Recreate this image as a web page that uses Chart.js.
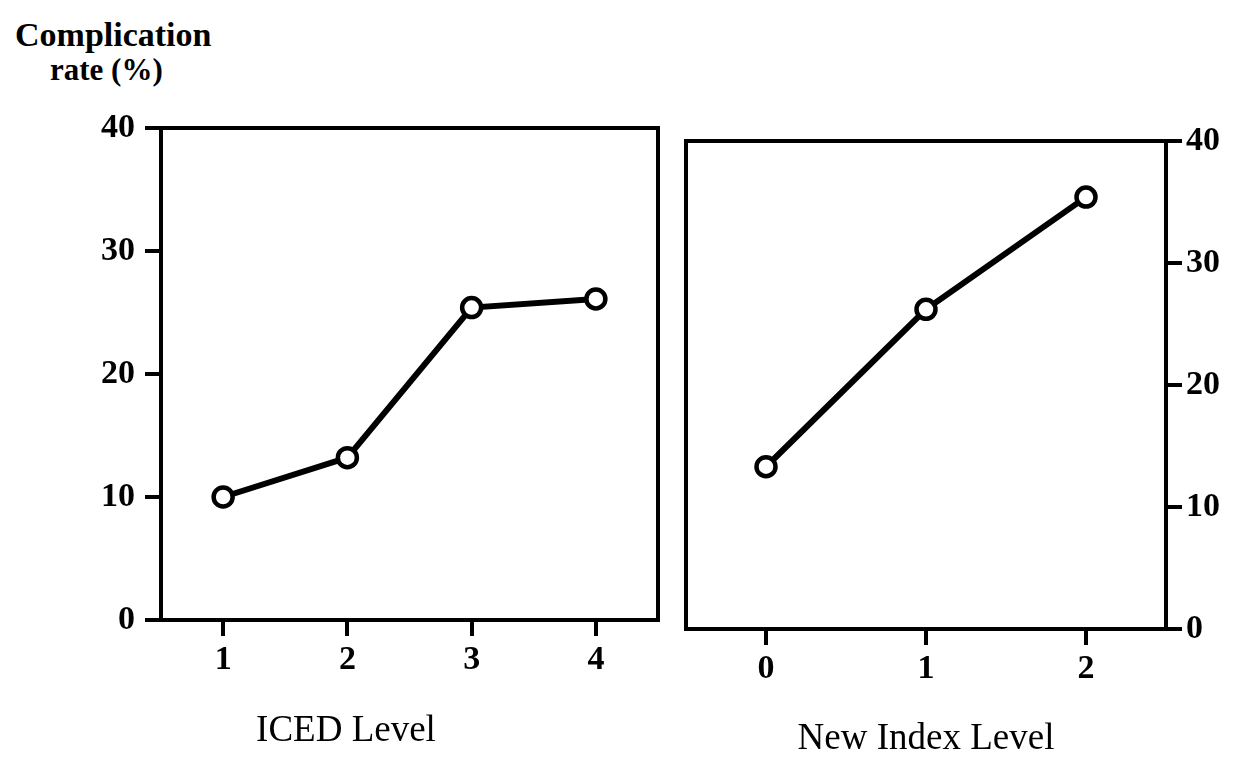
<!DOCTYPE html>
<html>
<head>
<meta charset="utf-8">
<script src="https://cdn.jsdelivr.net/npm/chart.js@4.4.1/dist/chart.umd.min.js"></script>
<style>
  html, body { margin: 0; padding: 0; background: #fff; }
  body { position: relative; width: 1236px; height: 781px; overflow: hidden; }
  #leftChart { position: absolute; left: 0; top: 0; }
  #rightChart { position: absolute; left: 672px; top: 0; }
  .ylabel { position: absolute; font-family: 'Liberation Serif', serif; font-weight: bold; font-size: 34px; line-height: 1; color: #000; white-space: nowrap; }
</style>
</head>
<body>
<div class="ylabel" style="left:15px; top:18px;">Complication</div>
<div class="ylabel" style="left:50px; top:54px; font-size:31px;">rate (%)</div>
<canvas id="leftChart" width="672" height="781"></canvas>
<canvas id="rightChart" width="564" height="781"></canvas>
<script>
// values
const icedLevels = [1, 2, 3, 4];
const icedRates = [10.0, 13.2, 25.4, 26.1];
const newIndexLevels = [0, 1, 2];
const newIndexRates = [13.3, 26.2, 35.4];

const icedTicks = [1, 2, 3, 4];
const newIndexTicks = [0, 1, 2];
const rateTicks = [0, 10, 20, 30, 40];

const serif = "'Liberation Serif', 'Times New Roman', serif";
const tickFont = { family: serif, size: 34, weight: 'bold' };
const titleFont = { family: serif, size: 37, weight: 'normal' };

// box around the plot area
const framePlugin = {
  id: 'frame',
  beforeDatasetsDraw(chart) {
    const { ctx, chartArea: a } = chart;
    ctx.save();
    ctx.strokeStyle = '#000';
    ctx.lineWidth = 4;
    ctx.strokeRect(a.left, a.top, a.right - a.left, a.bottom - a.top);
    ctx.restore();
  }
};

function setTicks(values) {
  return scale => { scale.ticks = values.map(v => ({ value: v })); };
}

function axisGrid() {
  return { display: true, drawOnChartArea: false, drawTicks: true, tickLength: 16, lineWidth: 4, color: '#000' };
}

function lineDataset(xs, ys) {
  return {
    data: xs.map((x, i) => ({ x, y: ys[i] })),
    borderColor: '#000',
    borderWidth: 6,
    pointRadius: 9.5,
    pointBorderWidth: 4.5,
    pointBackgroundColor: '#fff',
    pointBorderColor: '#000',
    tension: 0
  };
}

Chart.defaults.color = '#000';

// ─── ICED panel ─────────────────────────────────────────────
new Chart(document.getElementById('leftChart'), {
  type: 'line',
  data: { datasets: [lineDataset(icedLevels, icedRates)] },
  options: {
    responsive: false,
    animation: false,
    devicePixelRatio: 1,
    layout: { padding: { top: 128, left: 32, right: 12, bottom: 0 } },
    plugins: {
      legend: { display: false },
      tooltip: { enabled: false },
      title: { display: true, position: 'bottom', text: 'ICED Level', font: titleFont, color: '#000', padding: { top: 0, bottom: 28 } }
    },
    scales: {
      x: {
        type: 'linear', position: 'bottom', min: 0.5, max: 4.5,
        afterBuildTicks: setTicks(icedTicks),
        afterFit: s => { s.height = 88.6; },
        grid: axisGrid(),
        border: { display: false },
        ticks: { font: tickFont, color: '#000', padding: 4, maxRotation: 0 }
      },
      y: {
        type: 'linear', position: 'left', min: 0, max: 40,
        afterBuildTicks: setTicks(rateTicks),
        afterFit: s => { s.width = 129; },
        grid: axisGrid(),
        border: { display: false },
        ticks: { font: tickFont, color: '#000', padding: 10 }
      }
    }
  },
  plugins: [framePlugin]
});

// ─── New index panel ────────────────────────────────────────
new Chart(document.getElementById('rightChart'), {
  type: 'line',
  data: { datasets: [lineDataset(newIndexLevels, newIndexRates)] },
  options: {
    responsive: false,
    animation: false,
    devicePixelRatio: 1,
    layout: { padding: { top: 141, left: 9, right: 0, bottom: 0 } },
    plugins: { legend: { display: false }, tooltip: { enabled: false } },
    scales: {
      x: {
        type: 'linear', position: 'bottom', min: -0.5, max: 2.5,
        afterBuildTicks: setTicks(newIndexTicks),
        afterFit: s => { s.height = 152; },
        grid: axisGrid(),
        border: { display: false },
        ticks: { font: tickFont, color: '#000', padding: 4, maxRotation: 0 },
        title: { display: true, text: 'New Index Level', font: titleFont, color: '#000', padding: { top: 0, bottom: 20 } }
      },
      y: {
        type: 'linear', position: 'right', min: 0, max: 40,
        afterBuildTicks: setTicks(rateTicks),
        afterFit: s => { s.width = 70; },
        grid: axisGrid(),
        border: { display: false },
        ticks: { font: tickFont, color: '#000', padding: 4 }
      }
    }
  },
  plugins: [framePlugin]
});
</script>
</body>
</html>
